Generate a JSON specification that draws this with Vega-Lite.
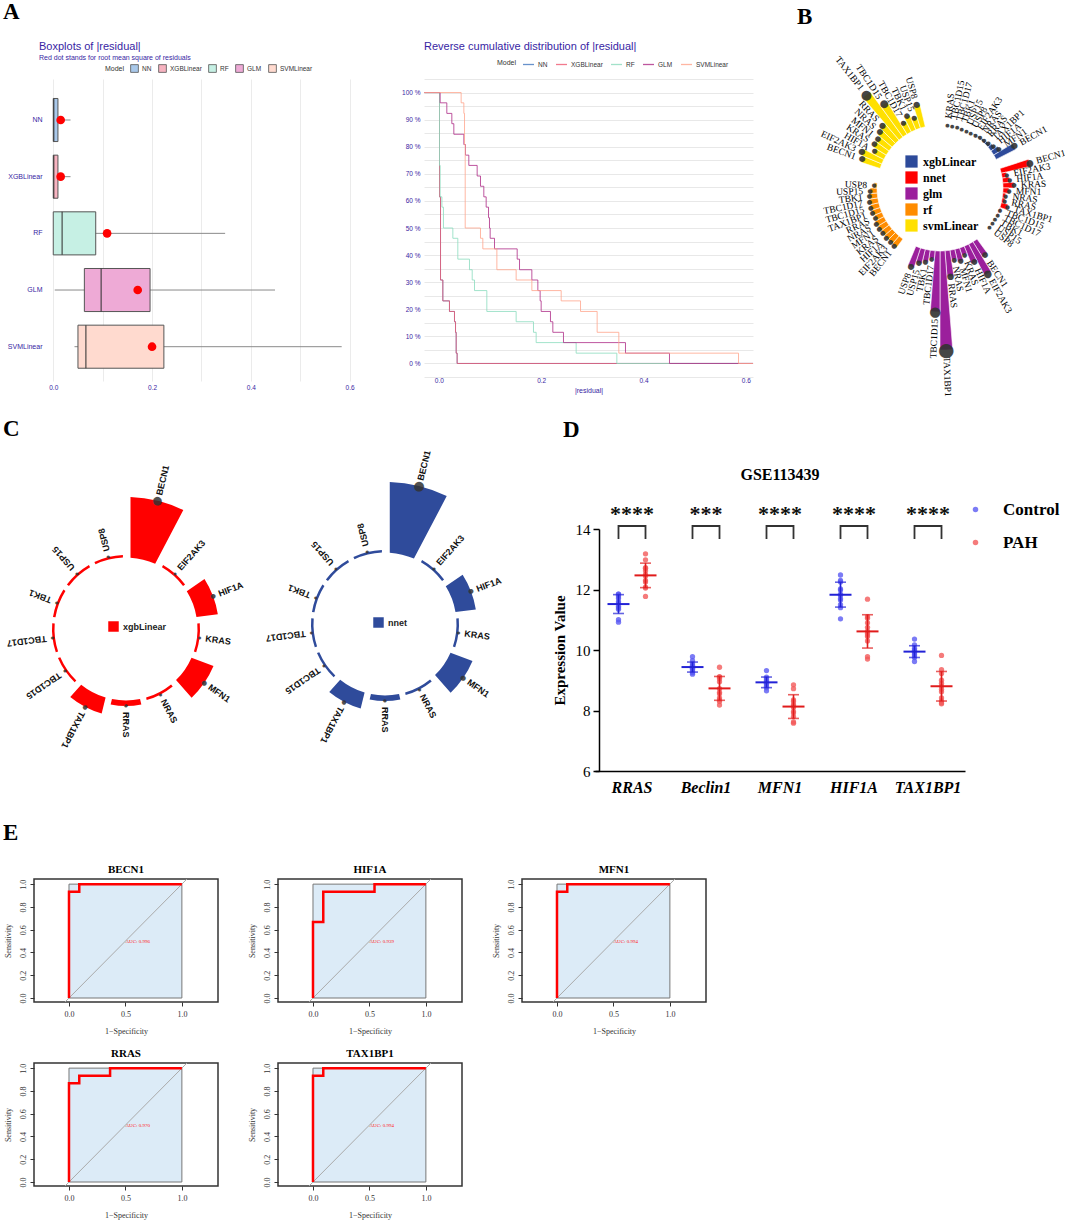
{
  "$schema": "https://vega.github.io/schema/vega-lite/v6.json",
  "padding": {"left": 3, "top": 1, "right": 0, "bottom": 0},
  "background": "white",
  "config": {"font": "Liberation Sans", "view": {"stroke": null}, "axis": {"labelOverlap": false}},
  "datasets": {
    "roc": [
      {"gene":"BECN1","k":0,"fpr":0,"tpr":0},{"gene":"BECN1","k":1,"fpr":0,"tpr":0.933},{"gene":"BECN1","k":2,"fpr":0.091,"tpr":0.933},{"gene":"BECN1","k":3,"fpr":0.091,"tpr":1},{"gene":"BECN1","k":4,"fpr":1,"tpr":1},
      {"gene":"HIF1A","k":0,"fpr":0,"tpr":0},{"gene":"HIF1A","k":1,"fpr":0,"tpr":0.667},{"gene":"HIF1A","k":2,"fpr":0.091,"tpr":0.667},{"gene":"HIF1A","k":3,"fpr":0.091,"tpr":0.933},{"gene":"HIF1A","k":4,"fpr":0.545,"tpr":0.933},{"gene":"HIF1A","k":5,"fpr":0.545,"tpr":1},{"gene":"HIF1A","k":6,"fpr":1,"tpr":1},
      {"gene":"MFN1","k":0,"fpr":0,"tpr":0},{"gene":"MFN1","k":1,"fpr":0,"tpr":0.933},{"gene":"MFN1","k":2,"fpr":0.091,"tpr":0.933},{"gene":"MFN1","k":3,"fpr":0.091,"tpr":1},{"gene":"MFN1","k":4,"fpr":1,"tpr":1},
      {"gene":"RRAS","k":0,"fpr":0,"tpr":0},{"gene":"RRAS","k":1,"fpr":0,"tpr":0.867},{"gene":"RRAS","k":2,"fpr":0.091,"tpr":0.867},{"gene":"RRAS","k":3,"fpr":0.091,"tpr":0.933},{"gene":"RRAS","k":4,"fpr":0.364,"tpr":0.933},{"gene":"RRAS","k":5,"fpr":0.364,"tpr":1},{"gene":"RRAS","k":6,"fpr":1,"tpr":1},
      {"gene":"TAX1BP1","k":0,"fpr":0,"tpr":0},{"gene":"TAX1BP1","k":1,"fpr":0,"tpr":0.933},{"gene":"TAX1BP1","k":2,"fpr":0.091,"tpr":0.933},{"gene":"TAX1BP1","k":3,"fpr":0.091,"tpr":1},{"gene":"TAX1BP1","k":4,"fpr":1,"tpr":1}
    ],
    "expr": [
      {"gene":"RRAS","group":"Control","value":11.85},{"gene":"RRAS","group":"Control","value":11.85},{"gene":"RRAS","group":"Control","value":11.8},{"gene":"RRAS","group":"Control","value":11.75},{"gene":"RRAS","group":"Control","value":11.7},{"gene":"RRAS","group":"Control","value":11.6},{"gene":"RRAS","group":"Control","value":11.55},{"gene":"RRAS","group":"Control","value":11.45},{"gene":"RRAS","group":"Control","value":11.4},{"gene":"RRAS","group":"Control","value":11.35},{"gene":"RRAS","group":"Control","value":11.0},{"gene":"RRAS","group":"Control","value":10.92},
      {"gene":"RRAS","group":"PAH","value":13.18},{"gene":"RRAS","group":"PAH","value":12.98},{"gene":"RRAS","group":"PAH","value":12.72},{"gene":"RRAS","group":"PAH","value":12.7},{"gene":"RRAS","group":"PAH","value":12.62},{"gene":"RRAS","group":"PAH","value":12.5},{"gene":"RRAS","group":"PAH","value":12.45},{"gene":"RRAS","group":"PAH","value":12.3},{"gene":"RRAS","group":"PAH","value":12.25},{"gene":"RRAS","group":"PAH","value":12.08},{"gene":"RRAS","group":"PAH","value":12.05},{"gene":"RRAS","group":"PAH","value":11.77},
      {"gene":"Beclin1","group":"Control","value":9.78},{"gene":"Beclin1","group":"Control","value":9.65},{"gene":"Beclin1","group":"Control","value":9.55},{"gene":"Beclin1","group":"Control","value":9.5},{"gene":"Beclin1","group":"Control","value":9.45},{"gene":"Beclin1","group":"Control","value":9.42},{"gene":"Beclin1","group":"Control","value":9.4},{"gene":"Beclin1","group":"Control","value":9.38},{"gene":"Beclin1","group":"Control","value":9.35},{"gene":"Beclin1","group":"Control","value":9.3},{"gene":"Beclin1","group":"Control","value":9.25},{"gene":"Beclin1","group":"Control","value":9.2},
      {"gene":"Beclin1","group":"PAH","value":9.43},{"gene":"Beclin1","group":"PAH","value":9.12},{"gene":"Beclin1","group":"PAH","value":9.1},{"gene":"Beclin1","group":"PAH","value":9.05},{"gene":"Beclin1","group":"PAH","value":8.95},{"gene":"Beclin1","group":"PAH","value":8.72},{"gene":"Beclin1","group":"PAH","value":8.6},{"gene":"Beclin1","group":"PAH","value":8.55},{"gene":"Beclin1","group":"PAH","value":8.42},{"gene":"Beclin1","group":"PAH","value":8.35},{"gene":"Beclin1","group":"PAH","value":8.3},{"gene":"Beclin1","group":"PAH","value":8.18},
      {"gene":"MFN1","group":"Control","value":9.32},{"gene":"MFN1","group":"Control","value":9.1},{"gene":"MFN1","group":"Control","value":9.05},{"gene":"MFN1","group":"Control","value":9.0},{"gene":"MFN1","group":"Control","value":8.95},{"gene":"MFN1","group":"Control","value":8.92},{"gene":"MFN1","group":"Control","value":8.9},{"gene":"MFN1","group":"Control","value":8.88},{"gene":"MFN1","group":"Control","value":8.85},{"gene":"MFN1","group":"Control","value":8.8},{"gene":"MFN1","group":"Control","value":8.75},{"gene":"MFN1","group":"Control","value":8.65},
      {"gene":"MFN1","group":"PAH","value":8.85},{"gene":"MFN1","group":"PAH","value":8.72},{"gene":"MFN1","group":"PAH","value":8.35},{"gene":"MFN1","group":"PAH","value":8.3},{"gene":"MFN1","group":"PAH","value":8.2},{"gene":"MFN1","group":"PAH","value":8.15},{"gene":"MFN1","group":"PAH","value":8.1},{"gene":"MFN1","group":"PAH","value":7.97},{"gene":"MFN1","group":"PAH","value":7.92},{"gene":"MFN1","group":"PAH","value":7.8},{"gene":"MFN1","group":"PAH","value":7.62},{"gene":"MFN1","group":"PAH","value":7.58},
      {"gene":"HIF1A","group":"Control","value":12.48},{"gene":"HIF1A","group":"Control","value":12.3},{"gene":"HIF1A","group":"Control","value":12.25},{"gene":"HIF1A","group":"Control","value":12.02},{"gene":"HIF1A","group":"Control","value":11.98},{"gene":"HIF1A","group":"Control","value":11.85},{"gene":"HIF1A","group":"Control","value":11.8},{"gene":"HIF1A","group":"Control","value":11.7},{"gene":"HIF1A","group":"Control","value":11.65},{"gene":"HIF1A","group":"Control","value":11.5},{"gene":"HIF1A","group":"Control","value":11.4},{"gene":"HIF1A","group":"Control","value":11.03},
      {"gene":"HIF1A","group":"PAH","value":11.68},{"gene":"HIF1A","group":"PAH","value":11.1},{"gene":"HIF1A","group":"PAH","value":11.05},{"gene":"HIF1A","group":"PAH","value":10.9},{"gene":"HIF1A","group":"PAH","value":10.75},{"gene":"HIF1A","group":"PAH","value":10.62},{"gene":"HIF1A","group":"PAH","value":10.55},{"gene":"HIF1A","group":"PAH","value":10.5},{"gene":"HIF1A","group":"PAH","value":10.45},{"gene":"HIF1A","group":"PAH","value":10.3},{"gene":"HIF1A","group":"PAH","value":9.78},{"gene":"HIF1A","group":"PAH","value":9.7},
      {"gene":"TAX1BP1","group":"Control","value":10.36},{"gene":"TAX1BP1","group":"Control","value":10.17},{"gene":"TAX1BP1","group":"Control","value":10.06},{"gene":"TAX1BP1","group":"Control","value":10.0},{"gene":"TAX1BP1","group":"Control","value":9.98},{"gene":"TAX1BP1","group":"Control","value":9.95},{"gene":"TAX1BP1","group":"Control","value":9.92},{"gene":"TAX1BP1","group":"Control","value":9.9},{"gene":"TAX1BP1","group":"Control","value":9.85},{"gene":"TAX1BP1","group":"Control","value":9.8},{"gene":"TAX1BP1","group":"Control","value":9.75},{"gene":"TAX1BP1","group":"Control","value":9.62},
      {"gene":"TAX1BP1","group":"PAH","value":9.82},{"gene":"TAX1BP1","group":"PAH","value":9.35},{"gene":"TAX1BP1","group":"PAH","value":9.22},{"gene":"TAX1BP1","group":"PAH","value":9.0},{"gene":"TAX1BP1","group":"PAH","value":8.9},{"gene":"TAX1BP1","group":"PAH","value":8.8},{"gene":"TAX1BP1","group":"PAH","value":8.7},{"gene":"TAX1BP1","group":"PAH","value":8.62},{"gene":"TAX1BP1","group":"PAH","value":8.42},{"gene":"TAX1BP1","group":"PAH","value":8.32},{"gene":"TAX1BP1","group":"PAH","value":8.25},{"gene":"TAX1BP1","group":"PAH","value":8.22}
    ]
  },
  "bounds": "flush",
  "spacing": 450,
  "resolve": {"scale": {"color": "independent", "fill": "independent", "size": "independent", "theta": "independent", "radius": "independent", "angle": "independent", "xOffset": "independent"}},
  "vconcat": [
    {
      "bounds": "flush",
      "spacing": 806,
      "resolve": {"scale": {"color": "independent", "fill": "independent", "size": "independent", "theta": "independent", "radius": "independent", "angle": "independent", "xOffset": "independent"}},
      "hconcat": [
        {
          "title": {"text": "A", "font": "Liberation Serif", "fontSize": 23, "fontWeight": "bold", "color": "black", "anchor": "start", "frame": "group", "dx": -31, "dy": -17, "offset": 0},
          "bounds": "flush",
          "spacing": 68,
          "resolve": {"scale": {"color": "independent", "fill": "independent", "size": "independent"}},
          "hconcat": [
            {
              "width": 322, "height": 302,
              "title": {"text": "Boxplots of |residual|", "subtitle": "Red dot stands for root mean square of residuals", "anchor": "start", "frame": "group", "dx": 5, "font": "Liberation Sans", "fontSize": 11, "fontWeight": "normal", "color": "#371ea3", "subtitleFont": "Liberation Sans", "subtitleColor": "#371ea3", "subtitleFontSize": 7, "subtitlePadding": 2, "offset": 3},
              "data": {"values": [
                {"model":"NN","lo":0,"q1":0,"med":0.001,"q3":0.0095,"hi":0.035,"rmse":0.015},
                {"model":"XGBLinear","lo":0,"q1":0,"med":0.001,"q3":0.0095,"hi":0.035,"rmse":0.015},
                {"model":"RF","lo":0,"q1":0,"med":0.018,"q3":0.086,"hi":0.348,"rmse":0.109},
                {"model":"GLM","lo":0.003,"q1":0.063,"med":0.097,"q3":0.196,"hi":0.449,"rmse":0.171},
                {"model":"SVMLinear","lo":0.043,"q1":0.05,"med":0.066,"q3":0.224,"hi":0.584,"rmse":0.2}
              ]},
              "encoding": {
                "y": {"field": "model", "type": "nominal", "sort": ["NN","XGBLinear","RF","GLM","SVMLinear"], "scale": {"paddingInner": 0, "paddingOuter": 0.1645, "align": 0.68},
                      "axis": {"domain": false, "ticks": false, "labelColor": "#371ea3", "labelFontSize": 7, "labelPadding": -8, "title": null}}
              },
              "layer": [
                {"mark": {"type": "rule", "color": "#8a8a8a", "strokeWidth": 1},
                 "encoding": {"x": {"field": "lo", "type": "quantitative", "scale": {"domain": [-0.039, 0.613], "nice": false, "zero": false},
                   "axis": {"values": [0,0.1,0.2,0.3,0.4,0.5,0.6], "labelExpr": "round(datum.value*10) % 2 == 0 ? format(datum.value, '.1f') : ''", "grid": true, "gridColor": "#ebebeb", "domain": false, "ticks": false, "labelColor": "#371ea3", "labelFontSize": 6.5, "labelPadding": 3, "title": null}},
                   "x2": {"field": "hi"}}},
                {"mark": {"type": "bar", "height": {"band": 0.76}, "stroke": "#555555", "strokeWidth": 1},
                 "encoding": {"x": {"field": "q1", "type": "quantitative"}, "x2": {"field": "q3"},
                   "fill": {"field": "model", "type": "nominal", "scale": {"domain": ["NN","XGBLinear","RF","GLM","SVMLinear"], "range": ["#a9c8ea","#f7b3c0","#c6f0e4","#eeaad6","#ffdacf"]},
                     "legend": {"orient": "none", "legendX": 71, "legendY": -15, "direction": "horizontal", "title": "Model", "titleOrient": "left", "symbolType": "square", "symbolSize": 60, "symbolStrokeColor": "#555555", "symbolStrokeWidth": 0.8, "labelFontSize": 6.5, "titleFontSize": 7, "labelColor": "#333333", "titleColor": "#333333", "titleFontWeight": "normal", "columnPadding": 5, "labelOffset": 3, "padding": 0}}}},
                {"mark": {"type": "tick", "color": "#333333", "thickness": 1.5, "size": 43},
                 "encoding": {"x": {"field": "med", "type": "quantitative"}}},
                {"mark": {"type": "circle", "color": "#ff0000", "size": 75, "opacity": 1},
                 "encoding": {"x": {"field": "rmse", "type": "quantitative"}}}
              ]
            },
            {
              "width": 329, "height": 298,
              "title": {"text": "Reverse cumulative distribution of |residual|", "anchor": "start", "frame": "group", "font": "Liberation Sans", "fontSize": 11, "fontWeight": "normal", "color": "#371ea3", "offset": 6},
              "data": {"values": [
                {"model":"NN","r":-0.03,"p":100},{"model":"NN","r":0.0013,"p":61.5},{"model":"NN","r":0.0033,"p":30.8},{"model":"NN","r":0.0078,"p":23.1},{"model":"NN","r":0.0208,"p":19.2},{"model":"NN","r":0.0306,"p":15.4},{"model":"NN","r":0.0326,"p":11.5},{"model":"NN","r":0.0339,"p":3.8},{"model":"NN","r":0.0358,"p":0},{"model":"NN","r":0.62,"p":0},
                {"model":"XGBLinear","r":-0.03,"p":100},{"model":"XGBLinear","r":0.0013,"p":61.5},{"model":"XGBLinear","r":0.0033,"p":30.8},{"model":"XGBLinear","r":0.0078,"p":23.1},{"model":"XGBLinear","r":0.0208,"p":19.2},{"model":"XGBLinear","r":0.0306,"p":15.4},{"model":"XGBLinear","r":0.0326,"p":11.5},{"model":"XGBLinear","r":0.0339,"p":3.8},{"model":"XGBLinear","r":0.0358,"p":0},{"model":"XGBLinear","r":0.62,"p":0},
                {"model":"RF","r":-0.03,"p":100},{"model":"RF","r":0.0013,"p":73.1},{"model":"RF","r":0.0026,"p":61.5},{"model":"RF","r":0.006,"p":57.7},{"model":"RF","r":0.009,"p":50},{"model":"RF","r":0.0274,"p":46.2},{"model":"RF","r":0.0371,"p":38.5},{"model":"RF","r":0.0599,"p":34.6},{"model":"RF","r":0.0652,"p":30.8},{"model":"RF","r":0.0697,"p":26.9},{"model":"RF","r":0.0938,"p":19.2},{"model":"RF","r":0.1511,"p":15.4},{"model":"RF","r":0.185,"p":11.5},{"model":"RF","r":0.1902,"p":7.7},{"model":"RF","r":0.2684,"p":3.8},{"model":"RF","r":0.3479,"p":0},{"model":"RF","r":0.62,"p":0},
                {"model":"GLM","r":-0.03,"p":100},{"model":"GLM","r":0.0026,"p":96.2},{"model":"GLM","r":0.0156,"p":92.3},{"model":"GLM","r":0.0254,"p":88.5},{"model":"GLM","r":0.0293,"p":84.6},{"model":"GLM","r":0.0489,"p":80.8},{"model":"GLM","r":0.0521,"p":76.9},{"model":"GLM","r":0.0586,"p":73.1},{"model":"GLM","r":0.0749,"p":69.2},{"model":"GLM","r":0.0814,"p":65.4},{"model":"GLM","r":0.0879,"p":61.5},{"model":"GLM","r":0.0925,"p":57.7},{"model":"GLM","r":0.0971,"p":53.8},{"model":"GLM","r":0.099,"p":50},{"model":"GLM","r":0.1003,"p":46.2},{"model":"GLM","r":0.1088,"p":42.3},{"model":"GLM","r":0.1531,"p":38.5},{"model":"GLM","r":0.1577,"p":34.6},{"model":"GLM","r":0.1818,"p":30.8},{"model":"GLM","r":0.1935,"p":26.9},{"model":"GLM","r":0.198,"p":23.1},{"model":"GLM","r":0.2,"p":19.2},{"model":"GLM","r":0.2182,"p":15.4},{"model":"GLM","r":0.2228,"p":11.5},{"model":"GLM","r":0.2436,"p":7.7},{"model":"GLM","r":0.3648,"p":3.8},{"model":"GLM","r":0.4508,"p":0},{"model":"GLM","r":0.62,"p":0},
                {"model":"SVMLinear","r":-0.03,"p":100},{"model":"SVMLinear","r":0.0436,"p":96.2},{"model":"SVMLinear","r":0.0489,"p":92.3},{"model":"SVMLinear","r":0.0502,"p":80.8},{"model":"SVMLinear","r":0.0515,"p":50},{"model":"SVMLinear","r":0.0814,"p":46.2},{"model":"SVMLinear","r":0.086,"p":42.3},{"model":"SVMLinear","r":0.1134,"p":34.6},{"model":"SVMLinear","r":0.1511,"p":30.8},{"model":"SVMLinear","r":0.1818,"p":26.9},{"model":"SVMLinear","r":0.2391,"p":23.1},{"model":"SVMLinear","r":0.2769,"p":19.2},{"model":"SVMLinear","r":0.3094,"p":11.5},{"model":"SVMLinear","r":0.3518,"p":3.8},{"model":"SVMLinear","r":0.5857,"p":0},{"model":"SVMLinear","r":0.62,"p":0}
              ]},
              "mark": {"type": "line", "interpolate": "step-after", "strokeWidth": 1, "clip": true, "opacity": 0.8},
              "encoding": {
                "x": {"field": "r", "type": "quantitative", "scale": {"domain": [-0.029, 0.614], "nice": false, "zero": false},
                      "axis": {"values": [0,0.2,0.4,0.6], "format": ".1f", "grid": false, "domain": false, "ticks": false, "labelColor": "#371ea3", "labelFontSize": 6.5, "labelPadding": 0, "title": "|residual|", "titleColor": "#371ea3", "titleFontSize": 7, "titleFontWeight": "normal", "titlePadding": 3}},
                "y": {"field": "p", "type": "quantitative", "scale": {"domain": [-5, 105], "nice": false, "zero": false},
                      "axis": {"values": [-5,0,5,10,15,20,25,30,35,40,45,50,55,60,65,70,75,80,85,90,95,100,105], "labelExpr": "(datum.value % 10 == 0 && datum.value >= 0 && datum.value <= 100) ? datum.value + ' %' : ''", "grid": true, "gridColor": "#e8e8e8", "domain": false, "ticks": false, "labelColor": "#371ea3", "labelFontSize": 6.5, "labelPadding": 4, "title": null}},
                "color": {"field": "model", "type": "nominal", "scale": {"domain": ["NN","XGBLinear","RF","GLM","SVMLinear"], "range": ["#4378bf","#f05a71","#8bdcbe","#ae2c87","#ffa58c"]},
                          "legend": {"orient": "none", "legendX": 73, "legendY": -21, "direction": "horizontal", "title": "Model", "titleOrient": "left", "symbolType": "stroke", "symbolSize": 120, "symbolStrokeWidth": 1.3, "labelFontSize": 6.5, "titleFontSize": 7, "labelColor": "#333333", "titleColor": "#333333", "titleFontWeight": "normal", "columnPadding": 5, "labelOffset": 3, "padding": 0}}
              }
            }
          ]
        },
        {
          "width": 200, "height": 218,
          "title": {"text": "B", "font": "Liberation Serif", "fontSize": 23, "fontWeight": "bold", "color": "black", "anchor": "start", "frame": "group", "dx": -43, "dy": -26, "offset": 0},
          "data": {"values": [
            {"m":"xgbLinear","g":"KRAS","p":1,"v":0},{"m":"xgbLinear","g":"TBC1D15","p":2,"v":0},{"m":"xgbLinear","g":"TBC1D17","p":3,"v":0},{"m":"xgbLinear","g":"TBK1","p":4,"v":0},{"m":"xgbLinear","g":"USP15","p":5,"v":0},{"m":"xgbLinear","g":"USP8","p":6,"v":0},{"m":"xgbLinear","g":"EIF2AK3","p":7,"v":1},{"m":"xgbLinear","g":"NRAS","p":8,"v":1.5},{"m":"xgbLinear","g":"RRAS","p":9,"v":2},{"m":"xgbLinear","g":"TAX1BP1","p":10,"v":3},{"m":"xgbLinear","g":"HIF1A","p":11,"v":5},{"m":"xgbLinear","g":"MFN1","p":12,"v":8},{"m":"xgbLinear","g":"BECN1","p":13,"v":22},
            {"m":"nnet","g":"BECN1","p":16,"v":30},{"m":"nnet","g":"EIF2AK3","p":17,"v":5},{"m":"nnet","g":"HIF1A","p":18,"v":7},{"m":"nnet","g":"KRAS","p":19,"v":11},{"m":"nnet","g":"MFN1","p":20,"v":6},{"m":"nnet","g":"NRAS","p":21,"v":3},{"m":"nnet","g":"RRAS","p":22,"v":3},{"m":"nnet","g":"TAX1BP1","p":23,"v":7},{"m":"nnet","g":"TBC1D15","p":24,"v":1},{"m":"nnet","g":"TBC1D17","p":25,"v":0.5},{"m":"nnet","g":"TBK1","p":26,"v":0},{"m":"nnet","g":"USP15","p":27,"v":0},{"m":"nnet","g":"USP8","p":28,"v":0},
            {"m":"glm","g":"BECN1","p":32,"v":18},{"m":"glm","g":"EIF2AK3","p":33,"v":35},{"m":"glm","g":"HIF1A","p":34,"v":19},{"m":"glm","g":"KRAS","p":35,"v":8},{"m":"glm","g":"MFN1","p":36,"v":13},{"m":"glm","g":"NRAS","p":37,"v":10},{"m":"glm","g":"RRAS","p":38,"v":26},{"m":"glm","g":"TAX1BP1","p":39,"v":99},{"m":"glm","g":"TBC1D15","p":40,"v":61},{"m":"glm","g":"TBC1D17","p":41,"v":8},{"m":"glm","g":"TBK1","p":42,"v":12},{"m":"glm","g":"USP15","p":43,"v":15},{"m":"glm","g":"USP8","p":44,"v":21},
            {"m":"rf","g":"BECN1","p":48,"v":11},{"m":"rf","g":"EIF2AK3","p":49,"v":10},{"m":"rf","g":"HIF1A","p":50,"v":10},{"m":"rf","g":"KRAS","p":51,"v":10},{"m":"rf","g":"MFN1","p":52,"v":10},{"m":"rf","g":"NRAS","p":53,"v":10},{"m":"rf","g":"RRAS","p":54,"v":8},{"m":"rf","g":"TAX1BP1","p":55,"v":9},{"m":"rf","g":"TBC1D15","p":56,"v":9},{"m":"rf","g":"TBC1D17","p":57,"v":9},{"m":"rf","g":"TBK1","p":58,"v":8},{"m":"rf","g":"USP15","p":59,"v":7},{"m":"rf","g":"USP8","p":60,"v":3},
            {"m":"svmLinear","g":"BECN1","p":64,"v":20},{"m":"svmLinear","g":"EIF2AK3","p":65,"v":23},{"m":"svmLinear","g":"HIF1A","p":66,"v":12},{"m":"svmLinear","g":"KRAS","p":67,"v":16},{"m":"svmLinear","g":"MFN1","p":68,"v":16},{"m":"svmLinear","g":"NRAS","p":69,"v":19},{"m":"svmLinear","g":"RRAS","p":70,"v":22},{"m":"svmLinear","g":"TAX1BP1","p":71,"v":56},{"m":"svmLinear","g":"TBC1D15","p":72,"v":38},{"m":"svmLinear","g":"TBC1D17","p":73,"v":12},{"m":"svmLinear","g":"TBK1","p":74,"v":16},{"m":"svmLinear","g":"USP15","p":75,"v":12},{"m":"svmLinear","g":"USP8","p":76,"v":23}
          ]},
          "resolve": {"scale": {"angle": "independent"}},
          "layer": [
            {"mark": {"type": "arc", "theta2Offset": 0.0785, "stroke": "white", "strokeWidth": 0.6},
             "encoding": {
               "theta": {"field": "p", "type": "quantitative", "stack": null, "scale": {"domain": [0, 80], "range": [0, 6.2832]}},
               "theta2": {"field": "p"},
               "radius": {"field": "v", "type": "quantitative", "scale": {"type": "linear", "domain": [0, 100], "range": [63, 163], "zero": false}},
               "radius2": {"datum": 0},
               "color": {"field": "m", "type": "nominal", "scale": {"domain": ["xgbLinear","nnet","glm","rf","svmLinear"], "range": ["#2d4a9a","#ff0000","#9b1f9c","#ff8c00","#ffe000"]},
                 "legend": {"orient": "none", "legendX": 65, "legendY": 76, "title": null, "symbolType": "square", "symbolSize": 150, "symbolStrokeWidth": 0, "labelFont": "Liberation Serif", "labelFontWeight": "bold", "labelFontSize": 12, "labelColor": "black", "rowPadding": 3, "labelOffset": 5, "padding": 0}}
             }},
            {"mark": {"type": "text", "text": "●", "thetaOffset": 0.0393, "color": "#333333", "font": "DejaVu Sans", "align": "center", "baseline": "middle", "opacity": 0.9},
             "encoding": {
               "theta": {"field": "p", "type": "quantitative", "stack": null},
               "radius": {"field": "v", "type": "quantitative"},
               "size": {"field": "v", "type": "quantitative", "scale": {"domain": [0, 100], "range": [5, 19]}, "legend": null}
             }},
            {"transform": [{"filter": "datum.p < 40"}],
             "mark": {"type": "text", "thetaOffset": 0.0393, "radiusOffset": 7, "align": "left", "baseline": "middle", "font": "Liberation Serif", "fontSize": 9.5, "color": "black"},
             "encoding": {
               "theta": {"field": "p", "type": "quantitative", "stack": null},
               "radius": {"field": "v", "type": "quantitative"},
               "text": {"field": "g"},
               "angle": {"field": "p", "type": "quantitative", "scale": {"domain": [0, 80], "range": [-87.75, 272.25]}}
             }},
            {"transform": [{"filter": "datum.p >= 40"}],
             "mark": {"type": "text", "thetaOffset": 0.0393, "radiusOffset": 7, "align": "right", "baseline": "middle", "font": "Liberation Serif", "fontSize": 9.5, "color": "black"},
             "encoding": {
               "theta": {"field": "p", "type": "quantitative", "stack": null},
               "radius": {"field": "v", "type": "quantitative"},
               "text": {"field": "g"},
               "angle": {"field": "p", "type": "quantitative", "scale": {"domain": [0, 80], "range": [92.25, 452.25]}}
             }}
          ]
        }
      ]
    },
    {
      "bounds": "flush",
      "spacing": 350,
      "resolve": {"scale": {"color": "independent", "fill": "independent", "size": "independent", "theta": "independent", "radius": "independent", "angle": "independent", "xOffset": "independent"}},
      "vconcat": [
        {
          "bounds": "flush",
          "spacing": 561,
          "resolve": {"scale": {"color": "independent", "fill": "independent", "size": "independent", "theta": "independent", "radius": "independent", "angle": "independent", "xOffset": "independent"}},
          "hconcat": [
            {
              "bounds": "flush",
              "spacing": 75,
              "resolve": {"scale": {"color": "independent", "size": "independent", "theta": "independent", "radius": "independent", "angle": "independent"}},
              "hconcat": [
                {
                  "width": 184, "height": 200,
                  "title": {"text": "C", "font": "Liberation Serif", "fontSize": 23, "fontWeight": "bold", "color": "black", "anchor": "start", "frame": "group", "dx": -31, "dy": -23, "offset": 0},
                  "data": {"values": [
                    {"m":"xgbLinear","g":"BECN1","p":0,"v":58},{"m":"xgbLinear","g":"EIF2AK3","p":1,"v":0},{"m":"xgbLinear","g":"HIF1A","p":2,"v":19},{"m":"xgbLinear","g":"KRAS","p":3,"v":0},{"m":"xgbLinear","g":"MFN1","p":4,"v":21},{"m":"xgbLinear","g":"NRAS","p":5,"v":0},{"m":"xgbLinear","g":"RRAS","p":6,"v":3},{"m":"xgbLinear","g":"TAX1BP1","p":7,"v":14},{"m":"xgbLinear","g":"TBC1D15","p":8,"v":0},{"m":"xgbLinear","g":"TBC1D17","p":9,"v":0},{"m":"xgbLinear","g":"TBK1","p":10,"v":0},{"m":"xgbLinear","g":"USP15","p":11,"v":0},{"m":"xgbLinear","g":"USP8","p":12,"v":0}
                  ]},
                  "layer": [
                    {"mark": {"type": "arc", "theta2Offset": 0.4833, "padAngle": 0.06},
                     "encoding": {
                       "theta": {"field": "p", "type": "quantitative", "stack": null, "scale": {"domain": [0, 13], "range": [0, 6.2832]}},
                       "theta2": {"field": "p"},
                       "radius": {"field": "v", "type": "quantitative", "scale": {"type": "linear", "domain": [0, 70], "range": [74, 144], "zero": false}},
                       "radius2": {"datum": -2.5},
                       "color": {"field": "m", "type": "nominal", "scale": {"domain": ["xgbLinear"], "range": ["#ff0000"]},
                         "legend": {"orient": "none", "legendX": 74, "legendY": 92, "title": null, "symbolType": "square", "symbolSize": 110, "symbolStrokeWidth": 0, "labelFont": "Liberation Sans", "labelFontWeight": "bold", "labelFontSize": 9, "labelColor": "#222222", "labelOffset": 4, "padding": 0}}
                     }},
                    {"mark": {"type": "text", "text": "●", "thetaOffset": 0.2417, "color": "#333333", "font": "DejaVu Sans", "align": "center", "baseline": "middle", "opacity": 0.85},
                     "encoding": {
                       "theta": {"field": "p", "type": "quantitative", "stack": null},
                       "radius": {"field": "v", "type": "quantitative"},
                       "size": {"field": "v", "type": "quantitative", "scale": {"domain": [0, 70], "range": [4, 13]}, "legend": null}
                     }},
                    {"mark": {"type": "text", "thetaOffset": 0.2417, "radiusOffset": 6, "align": "left", "baseline": "middle", "font": "Liberation Sans", "fontSize": 9, "fontWeight": "bold", "color": "#111111"},
                     "encoding": {
                       "theta": {"field": "p", "type": "quantitative", "stack": null},
                       "radius": {"field": "v", "type": "quantitative"},
                       "text": {"field": "g"},
                       "angle": {"field": "p", "type": "quantitative", "scale": {"domain": [0, 13], "range": [-76.15, 283.85]}}
                     }}
                  ]
                },
                {
                  "width": 184, "height": 190,
                  "title": {"text": "D", "font": "Liberation Serif", "fontSize": 23, "fontWeight": "bold", "color": "black", "anchor": "start", "frame": "group", "dx": 270, "dy": -8, "offset": 0},
                  "data": {"values": [
                    {"m":"nnet","g":"BECN1","p":0,"v":68},{"m":"nnet","g":"EIF2AK3","p":1,"v":0},{"m":"nnet","g":"HIF1A","p":2,"v":18},{"m":"nnet","g":"KRAS","p":3,"v":0},{"m":"nnet","g":"MFN1","p":4,"v":21},{"m":"nnet","g":"NRAS","p":5,"v":0},{"m":"nnet","g":"RRAS","p":6,"v":3},{"m":"nnet","g":"TAX1BP1","p":7,"v":14},{"m":"nnet","g":"TBC1D15","p":8,"v":0},{"m":"nnet","g":"TBC1D17","p":9,"v":0},{"m":"nnet","g":"TBK1","p":10,"v":0},{"m":"nnet","g":"USP15","p":11,"v":0},{"m":"nnet","g":"USP8","p":12,"v":0}
                  ]},
                  "layer": [
                    {"mark": {"type": "arc", "theta2Offset": 0.4833, "padAngle": 0.06},
                     "encoding": {
                       "theta": {"field": "p", "type": "quantitative", "stack": null, "scale": {"domain": [0, 13], "range": [0, 6.2832]}},
                       "theta2": {"field": "p"},
                       "radius": {"field": "v", "type": "quantitative", "scale": {"type": "linear", "domain": [0, 70], "range": [74, 144], "zero": false}},
                       "radius2": {"datum": -2.5},
                       "color": {"field": "m", "type": "nominal", "scale": {"domain": ["nnet"], "range": ["#2f4b9b"]},
                         "legend": {"orient": "none", "legendX": 80, "legendY": 88, "title": null, "symbolType": "square", "symbolSize": 110, "symbolStrokeWidth": 0, "labelFont": "Liberation Sans", "labelFontWeight": "bold", "labelFontSize": 9, "labelColor": "#222222", "labelOffset": 4, "padding": 0}}
                     }},
                    {"mark": {"type": "text", "text": "●", "thetaOffset": 0.2417, "color": "#333333", "font": "DejaVu Sans", "align": "center", "baseline": "middle", "opacity": 0.85},
                     "encoding": {
                       "theta": {"field": "p", "type": "quantitative", "stack": null},
                       "radius": {"field": "v", "type": "quantitative"},
                       "size": {"field": "v", "type": "quantitative", "scale": {"domain": [0, 70], "range": [4, 13]}, "legend": null}
                     }},
                    {"mark": {"type": "text", "thetaOffset": 0.2417, "radiusOffset": 6, "align": "left", "baseline": "middle", "font": "Liberation Sans", "fontSize": 9, "fontWeight": "bold", "color": "#111111"},
                     "encoding": {
                       "theta": {"field": "p", "type": "quantitative", "stack": null},
                       "radius": {"field": "v", "type": "quantitative"},
                       "text": {"field": "g"},
                       "angle": {"field": "p", "type": "quantitative", "scale": {"domain": [0, 13], "range": [-76.15, 283.85]}}
                     }}
                  ]
                }
              ]
            },
            {
              "width": 370, "height": 242,
              "title": {"text": "GSE113439", "font": "Liberation Serif", "fontSize": 16, "fontWeight": "bold", "color": "black", "anchor": "middle", "frame": "group", "offset": 18},
              "data": {"name": "expr"},
              "resolve": {"scale": {"color": "independent"}},
              "layer": [
                {"mark": {"type": "circle", "size": 28, "opacity": 0.8},
                 "encoding": {
                   "x": {"field": "gene", "type": "nominal", "sort": ["RRAS","Beclin1","MFN1","HIF1A","TAX1BP1"], "scale": {"paddingInner": 0, "paddingOuter": 0},
                         "axis": {"labelFont": "Liberation Serif", "labelFontSize": 16, "labelFontWeight": "bold", "labelFontStyle": "italic", "labelColor": "black", "domainColor": "black", "domainWidth": 1.5, "ticks": false, "labelAngle": 0, "labelPadding": 8, "title": null}},
                   "xOffset": {"field": "group", "type": "nominal", "scale": {"domain": ["Control","PAH"], "paddingInner": 0, "paddingOuter": 0.37}},
                   "y": {"field": "value", "type": "quantitative", "title": "Expression Value", "scale": {"domain": [6, 14], "nice": false, "zero": false},
                         "axis": {"values": [6,8,10,12,14], "offset": -4, "grid": false, "domainColor": "black", "domainWidth": 1.5, "tickColor": "black", "tickWidth": 1.5, "tickSize": 6, "labelFont": "Liberation Serif", "labelFontSize": 15, "labelColor": "black", "labelPadding": 3, "title": "Expression Value", "titleFont": "Liberation Serif", "titleFontSize": 15, "titleFontWeight": "bold", "titleColor": "black", "titlePadding": 8}},
                   "color": {"field": "group", "type": "nominal", "scale": {"domain": ["Control","PAH"], "range": ["#5a5af2","#f25a5a"]},
                             "legend": {"orient": "none", "legendX": 372, "legendY": -28, "title": null, "symbolType": "circle", "symbolSize": 30, "labelFont": "Liberation Serif", "labelFontWeight": "bold", "labelFontSize": 17, "labelColor": "black", "rowPadding": 15, "labelOffset": 19, "padding": 0}}
                 }},
                {"mark": {"type": "errorbar", "extent": "stdev", "thickness": 1.6, "ticks": {"size": 11, "thickness": 1.6}},
                 "encoding": {
                   "x": {"field": "gene", "type": "nominal", "sort": ["RRAS","Beclin1","MFN1","HIF1A","TAX1BP1"]},
                   "xOffset": {"field": "group", "type": "nominal"},
                   "y": {"field": "value", "type": "quantitative", "title": "Expression Value"},
                   "color": {"field": "group", "type": "nominal", "scale": {"domain": ["Control","PAH"], "range": ["#2222d6","#e01b1b"]}, "legend": null}
                 }},
                {"mark": {"type": "tick", "size": 22, "thickness": 2},
                 "encoding": {
                   "x": {"field": "gene", "type": "nominal", "sort": ["RRAS","Beclin1","MFN1","HIF1A","TAX1BP1"]},
                   "xOffset": {"field": "group", "type": "nominal"},
                   "y": {"aggregate": "mean", "field": "value", "type": "quantitative", "title": "Expression Value"},
                   "color": {"field": "group", "type": "nominal", "scale": {"domain": ["Control","PAH"], "range": ["#2222d6","#e01b1b"]}, "legend": null}
                 }},
                {"data": {"values": [
                   {"gene":"RRAS","group":"Control","y":13.67,"k":0},{"gene":"RRAS","group":"Control","y":14.1,"k":1},{"gene":"RRAS","group":"PAH","y":14.1,"k":2},{"gene":"RRAS","group":"PAH","y":13.67,"k":3},
                   {"gene":"Beclin1","group":"Control","y":13.67,"k":0},{"gene":"Beclin1","group":"Control","y":14.1,"k":1},{"gene":"Beclin1","group":"PAH","y":14.1,"k":2},{"gene":"Beclin1","group":"PAH","y":13.67,"k":3},
                   {"gene":"MFN1","group":"Control","y":13.67,"k":0},{"gene":"MFN1","group":"Control","y":14.1,"k":1},{"gene":"MFN1","group":"PAH","y":14.1,"k":2},{"gene":"MFN1","group":"PAH","y":13.67,"k":3},
                   {"gene":"HIF1A","group":"Control","y":13.67,"k":0},{"gene":"HIF1A","group":"Control","y":14.1,"k":1},{"gene":"HIF1A","group":"PAH","y":14.1,"k":2},{"gene":"HIF1A","group":"PAH","y":13.67,"k":3},
                   {"gene":"TAX1BP1","group":"Control","y":13.67,"k":0},{"gene":"TAX1BP1","group":"Control","y":14.1,"k":1},{"gene":"TAX1BP1","group":"PAH","y":14.1,"k":2},{"gene":"TAX1BP1","group":"PAH","y":13.67,"k":3}
                 ]},
                 "mark": {"type": "line", "color": "#333333", "strokeWidth": 1.8},
                 "encoding": {
                   "x": {"field": "gene", "type": "nominal", "sort": ["RRAS","Beclin1","MFN1","HIF1A","TAX1BP1"]},
                   "xOffset": {"field": "group", "type": "nominal"},
                   "y": {"field": "y", "type": "quantitative", "title": "Expression Value"},
                   "detail": {"field": "gene"},
                   "order": {"field": "k"}
                 }},
                {"data": {"values": [
                   {"gene":"RRAS","s":"****"},{"gene":"Beclin1","s":"***"},{"gene":"MFN1","s":"****"},{"gene":"HIF1A","s":"****"},{"gene":"TAX1BP1","s":"****"}
                 ]},
                 "mark": {"type": "text", "font": "Liberation Serif", "fontSize": 22, "fontWeight": "bold", "baseline": "alphabetic", "align": "center", "color": "#111111"},
                 "encoding": {
                   "x": {"field": "gene", "type": "nominal", "sort": ["RRAS","Beclin1","MFN1","HIF1A","TAX1BP1"]},
                   "y": {"datum": 14.25, "title": "Expression Value"},
                   "text": {"field": "s"}
                 }}
              ]
            }
          ]
        },
        {
          "title": {"text": "E", "font": "Liberation Serif", "fontSize": 23, "fontWeight": "bold", "color": "black", "anchor": "start", "frame": "group", "dx": -31, "dy": -18, "offset": 0},
          "bounds": "flush",
          "spacing": 184,
          "vconcat": [
            {
              "bounds": "flush",
              "spacing": 60,
              "hconcat": [
                {
                  "width": 184, "height": 123,
                  "view": {"stroke": "#333333", "strokeWidth": 1.5},
                  "title": {"text": "BECN1", "font": "Liberation Serif", "fontSize": 11, "fontWeight": "bold", "color": "black", "offset": 4},
                  "encoding": {
                    "x": {"type": "quantitative", "scale": {"domain": [-0.31, 1.32], "nice": false, "zero": false},
                          "axis": {"values": [0,0.5,1], "format": ".1f", "grid": false, "domain": false, "tickColor": "#333333", "tickSize": 4, "labelFont": "Liberation Serif", "labelFontSize": 8, "labelColor": "#333333", "labelPadding": 4, "title": "1−Specificity", "titleFont": "Liberation Serif", "titleFontSize": 8, "titleFontWeight": "normal", "titleColor": "#333333", "titlePadding": 9}},
                    "y": {"type": "quantitative", "scale": {"domain": [-0.035, 1.045], "nice": false, "zero": false},
                          "axis": {"values": [0,0.2,0.4,0.6,0.8,1], "format": ".1f", "grid": false, "domain": false, "tickColor": "#333333", "tickSize": 4, "labelFont": "Liberation Serif", "labelFontSize": 8, "labelColor": "#333333", "labelAngle": 270, "labelAlign": "center", "labelBaseline": "bottom", "labelPadding": 3, "labelOverlap": false, "title": "Sensitivity", "titleFont": "Liberation Serif", "titleFontSize": 8, "titleFontWeight": "normal", "titleColor": "#333333", "titlePadding": 7}}
                  },
                  "layer": [
                    {"data": {"values": [{}]}, "mark": {"type": "rect", "fill": "#dcebf7", "stroke": "#777777", "strokeWidth": 1},
                     "encoding": {"x": {"datum": 0, "type": "quantitative"}, "x2": {"datum": 1}, "y": {"datum": 0, "type": "quantitative"}, "y2": {"datum": 1}}},
                    {"data": {"values": [{}]}, "mark": {"type": "rule", "color": "#aaaaaa", "strokeWidth": 1, "clip": true},
                     "encoding": {"x": {"datum": -0.2, "type": "quantitative"}, "y": {"datum": -0.2, "type": "quantitative"}, "x2": {"datum": 1.2}, "y2": {"datum": 1.2}}},
                    {"data": {"name": "roc"}, "transform": [{"filter": "datum.gene == 'BECN1'"}],
                     "mark": {"type": "line", "color": "#ff0000", "strokeWidth": 2.5},
                     "encoding": {"x": {"field": "fpr", "type": "quantitative"}, "y": {"field": "tpr", "type": "quantitative"}, "order": {"field": "k"}}},
                    {"data": {"values": [{}]}, "mark": {"type": "text", "text": "AUC: 0.996", "align": "left", "baseline": "middle", "color": "#ff2020", "fontSize": 5, "font": "Liberation Serif"},
                     "encoding": {"x": {"datum": 0.5, "type": "quantitative"}, "y": {"datum": 0.5, "type": "quantitative"}}}
                  ]
                },
                {
                  "width": 184, "height": 123,
                  "view": {"stroke": "#333333", "strokeWidth": 1.5},
                  "title": {"text": "HIF1A", "font": "Liberation Serif", "fontSize": 11, "fontWeight": "bold", "color": "black", "offset": 4},
                  "encoding": {
                    "x": {"type": "quantitative", "scale": {"domain": [-0.31, 1.32], "nice": false, "zero": false},
                          "axis": {"values": [0,0.5,1], "format": ".1f", "grid": false, "domain": false, "tickColor": "#333333", "tickSize": 4, "labelFont": "Liberation Serif", "labelFontSize": 8, "labelColor": "#333333", "labelPadding": 4, "title": "1−Specificity", "titleFont": "Liberation Serif", "titleFontSize": 8, "titleFontWeight": "normal", "titleColor": "#333333", "titlePadding": 9}},
                    "y": {"type": "quantitative", "scale": {"domain": [-0.035, 1.045], "nice": false, "zero": false},
                          "axis": {"values": [0,0.2,0.4,0.6,0.8,1], "format": ".1f", "grid": false, "domain": false, "tickColor": "#333333", "tickSize": 4, "labelFont": "Liberation Serif", "labelFontSize": 8, "labelColor": "#333333", "labelAngle": 270, "labelAlign": "center", "labelBaseline": "bottom", "labelPadding": 3, "labelOverlap": false, "title": "Sensitivity", "titleFont": "Liberation Serif", "titleFontSize": 8, "titleFontWeight": "normal", "titleColor": "#333333", "titlePadding": 7}}
                  },
                  "layer": [
                    {"data": {"values": [{}]}, "mark": {"type": "rect", "fill": "#dcebf7", "stroke": "#777777", "strokeWidth": 1},
                     "encoding": {"x": {"datum": 0, "type": "quantitative"}, "x2": {"datum": 1}, "y": {"datum": 0, "type": "quantitative"}, "y2": {"datum": 1}}},
                    {"data": {"values": [{}]}, "mark": {"type": "rule", "color": "#aaaaaa", "strokeWidth": 1, "clip": true},
                     "encoding": {"x": {"datum": -0.2, "type": "quantitative"}, "y": {"datum": -0.2, "type": "quantitative"}, "x2": {"datum": 1.2}, "y2": {"datum": 1.2}}},
                    {"data": {"name": "roc"}, "transform": [{"filter": "datum.gene == 'HIF1A'"}],
                     "mark": {"type": "line", "color": "#ff0000", "strokeWidth": 2.5},
                     "encoding": {"x": {"field": "fpr", "type": "quantitative"}, "y": {"field": "tpr", "type": "quantitative"}, "order": {"field": "k"}}},
                    {"data": {"values": [{}]}, "mark": {"type": "text", "text": "AUC: 0.939", "align": "left", "baseline": "middle", "color": "#ff2020", "fontSize": 5, "font": "Liberation Serif"},
                     "encoding": {"x": {"datum": 0.5, "type": "quantitative"}, "y": {"datum": 0.5, "type": "quantitative"}}}
                  ]
                },
                {
                  "width": 184, "height": 123,
                  "view": {"stroke": "#333333", "strokeWidth": 1.5},
                  "title": {"text": "MFN1", "font": "Liberation Serif", "fontSize": 11, "fontWeight": "bold", "color": "black", "offset": 4},
                  "encoding": {
                    "x": {"type": "quantitative", "scale": {"domain": [-0.31, 1.32], "nice": false, "zero": false},
                          "axis": {"values": [0,0.5,1], "format": ".1f", "grid": false, "domain": false, "tickColor": "#333333", "tickSize": 4, "labelFont": "Liberation Serif", "labelFontSize": 8, "labelColor": "#333333", "labelPadding": 4, "title": "1−Specificity", "titleFont": "Liberation Serif", "titleFontSize": 8, "titleFontWeight": "normal", "titleColor": "#333333", "titlePadding": 9}},
                    "y": {"type": "quantitative", "scale": {"domain": [-0.035, 1.045], "nice": false, "zero": false},
                          "axis": {"values": [0,0.2,0.4,0.6,0.8,1], "format": ".1f", "grid": false, "domain": false, "tickColor": "#333333", "tickSize": 4, "labelFont": "Liberation Serif", "labelFontSize": 8, "labelColor": "#333333", "labelAngle": 270, "labelAlign": "center", "labelBaseline": "bottom", "labelPadding": 3, "labelOverlap": false, "title": "Sensitivity", "titleFont": "Liberation Serif", "titleFontSize": 8, "titleFontWeight": "normal", "titleColor": "#333333", "titlePadding": 7}}
                  },
                  "layer": [
                    {"data": {"values": [{}]}, "mark": {"type": "rect", "fill": "#dcebf7", "stroke": "#777777", "strokeWidth": 1},
                     "encoding": {"x": {"datum": 0, "type": "quantitative"}, "x2": {"datum": 1}, "y": {"datum": 0, "type": "quantitative"}, "y2": {"datum": 1}}},
                    {"data": {"values": [{}]}, "mark": {"type": "rule", "color": "#aaaaaa", "strokeWidth": 1, "clip": true},
                     "encoding": {"x": {"datum": -0.2, "type": "quantitative"}, "y": {"datum": -0.2, "type": "quantitative"}, "x2": {"datum": 1.2}, "y2": {"datum": 1.2}}},
                    {"data": {"name": "roc"}, "transform": [{"filter": "datum.gene == 'MFN1'"}],
                     "mark": {"type": "line", "color": "#ff0000", "strokeWidth": 2.5},
                     "encoding": {"x": {"field": "fpr", "type": "quantitative"}, "y": {"field": "tpr", "type": "quantitative"}, "order": {"field": "k"}}},
                    {"data": {"values": [{}]}, "mark": {"type": "text", "text": "AUC: 0.994", "align": "left", "baseline": "middle", "color": "#ff2020", "fontSize": 5, "font": "Liberation Serif"},
                     "encoding": {"x": {"datum": 0.5, "type": "quantitative"}, "y": {"datum": 0.5, "type": "quantitative"}}}
                  ]
                }
              ]
            },
            {
              "bounds": "flush",
              "spacing": 60,
              "hconcat": [
                {
                  "width": 184, "height": 123,
                  "view": {"stroke": "#333333", "strokeWidth": 1.5},
                  "title": {"text": "RRAS", "font": "Liberation Serif", "fontSize": 11, "fontWeight": "bold", "color": "black", "offset": 4},
                  "encoding": {
                    "x": {"type": "quantitative", "scale": {"domain": [-0.31, 1.32], "nice": false, "zero": false},
                          "axis": {"values": [0,0.5,1], "format": ".1f", "grid": false, "domain": false, "tickColor": "#333333", "tickSize": 4, "labelFont": "Liberation Serif", "labelFontSize": 8, "labelColor": "#333333", "labelPadding": 4, "title": "1−Specificity", "titleFont": "Liberation Serif", "titleFontSize": 8, "titleFontWeight": "normal", "titleColor": "#333333", "titlePadding": 9}},
                    "y": {"type": "quantitative", "scale": {"domain": [-0.035, 1.045], "nice": false, "zero": false},
                          "axis": {"values": [0,0.2,0.4,0.6,0.8,1], "format": ".1f", "grid": false, "domain": false, "tickColor": "#333333", "tickSize": 4, "labelFont": "Liberation Serif", "labelFontSize": 8, "labelColor": "#333333", "labelAngle": 270, "labelAlign": "center", "labelBaseline": "bottom", "labelPadding": 3, "labelOverlap": false, "title": "Sensitivity", "titleFont": "Liberation Serif", "titleFontSize": 8, "titleFontWeight": "normal", "titleColor": "#333333", "titlePadding": 7}}
                  },
                  "layer": [
                    {"data": {"values": [{}]}, "mark": {"type": "rect", "fill": "#dcebf7", "stroke": "#777777", "strokeWidth": 1},
                     "encoding": {"x": {"datum": 0, "type": "quantitative"}, "x2": {"datum": 1}, "y": {"datum": 0, "type": "quantitative"}, "y2": {"datum": 1}}},
                    {"data": {"values": [{}]}, "mark": {"type": "rule", "color": "#aaaaaa", "strokeWidth": 1, "clip": true},
                     "encoding": {"x": {"datum": -0.2, "type": "quantitative"}, "y": {"datum": -0.2, "type": "quantitative"}, "x2": {"datum": 1.2}, "y2": {"datum": 1.2}}},
                    {"data": {"name": "roc"}, "transform": [{"filter": "datum.gene == 'RRAS'"}],
                     "mark": {"type": "line", "color": "#ff0000", "strokeWidth": 2.5},
                     "encoding": {"x": {"field": "fpr", "type": "quantitative"}, "y": {"field": "tpr", "type": "quantitative"}, "order": {"field": "k"}}},
                    {"data": {"values": [{}]}, "mark": {"type": "text", "text": "AUC: 0.970", "align": "left", "baseline": "middle", "color": "#ff2020", "fontSize": 5, "font": "Liberation Serif"},
                     "encoding": {"x": {"datum": 0.5, "type": "quantitative"}, "y": {"datum": 0.5, "type": "quantitative"}}}
                  ]
                },
                {
                  "width": 184, "height": 123,
                  "view": {"stroke": "#333333", "strokeWidth": 1.5},
                  "title": {"text": "TAX1BP1", "font": "Liberation Serif", "fontSize": 11, "fontWeight": "bold", "color": "black", "offset": 4},
                  "encoding": {
                    "x": {"type": "quantitative", "scale": {"domain": [-0.31, 1.32], "nice": false, "zero": false},
                          "axis": {"values": [0,0.5,1], "format": ".1f", "grid": false, "domain": false, "tickColor": "#333333", "tickSize": 4, "labelFont": "Liberation Serif", "labelFontSize": 8, "labelColor": "#333333", "labelPadding": 4, "title": "1−Specificity", "titleFont": "Liberation Serif", "titleFontSize": 8, "titleFontWeight": "normal", "titleColor": "#333333", "titlePadding": 9}},
                    "y": {"type": "quantitative", "scale": {"domain": [-0.035, 1.045], "nice": false, "zero": false},
                          "axis": {"values": [0,0.2,0.4,0.6,0.8,1], "format": ".1f", "grid": false, "domain": false, "tickColor": "#333333", "tickSize": 4, "labelFont": "Liberation Serif", "labelFontSize": 8, "labelColor": "#333333", "labelAngle": 270, "labelAlign": "center", "labelBaseline": "bottom", "labelPadding": 3, "labelOverlap": false, "title": "Sensitivity", "titleFont": "Liberation Serif", "titleFontSize": 8, "titleFontWeight": "normal", "titleColor": "#333333", "titlePadding": 7}}
                  },
                  "layer": [
                    {"data": {"values": [{}]}, "mark": {"type": "rect", "fill": "#dcebf7", "stroke": "#777777", "strokeWidth": 1},
                     "encoding": {"x": {"datum": 0, "type": "quantitative"}, "x2": {"datum": 1}, "y": {"datum": 0, "type": "quantitative"}, "y2": {"datum": 1}}},
                    {"data": {"values": [{}]}, "mark": {"type": "rule", "color": "#aaaaaa", "strokeWidth": 1, "clip": true},
                     "encoding": {"x": {"datum": -0.2, "type": "quantitative"}, "y": {"datum": -0.2, "type": "quantitative"}, "x2": {"datum": 1.2}, "y2": {"datum": 1.2}}},
                    {"data": {"name": "roc"}, "transform": [{"filter": "datum.gene == 'TAX1BP1'"}],
                     "mark": {"type": "line", "color": "#ff0000", "strokeWidth": 2.5},
                     "encoding": {"x": {"field": "fpr", "type": "quantitative"}, "y": {"field": "tpr", "type": "quantitative"}, "order": {"field": "k"}}},
                    {"data": {"values": [{}]}, "mark": {"type": "text", "text": "AUC: 0.994", "align": "left", "baseline": "middle", "color": "#ff2020", "fontSize": 5, "font": "Liberation Serif"},
                     "encoding": {"x": {"datum": 0.5, "type": "quantitative"}, "y": {"datum": 0.5, "type": "quantitative"}}}
                  ]
                }
              ]
            }
          ]
        }
      ]
    }
  ]
}
